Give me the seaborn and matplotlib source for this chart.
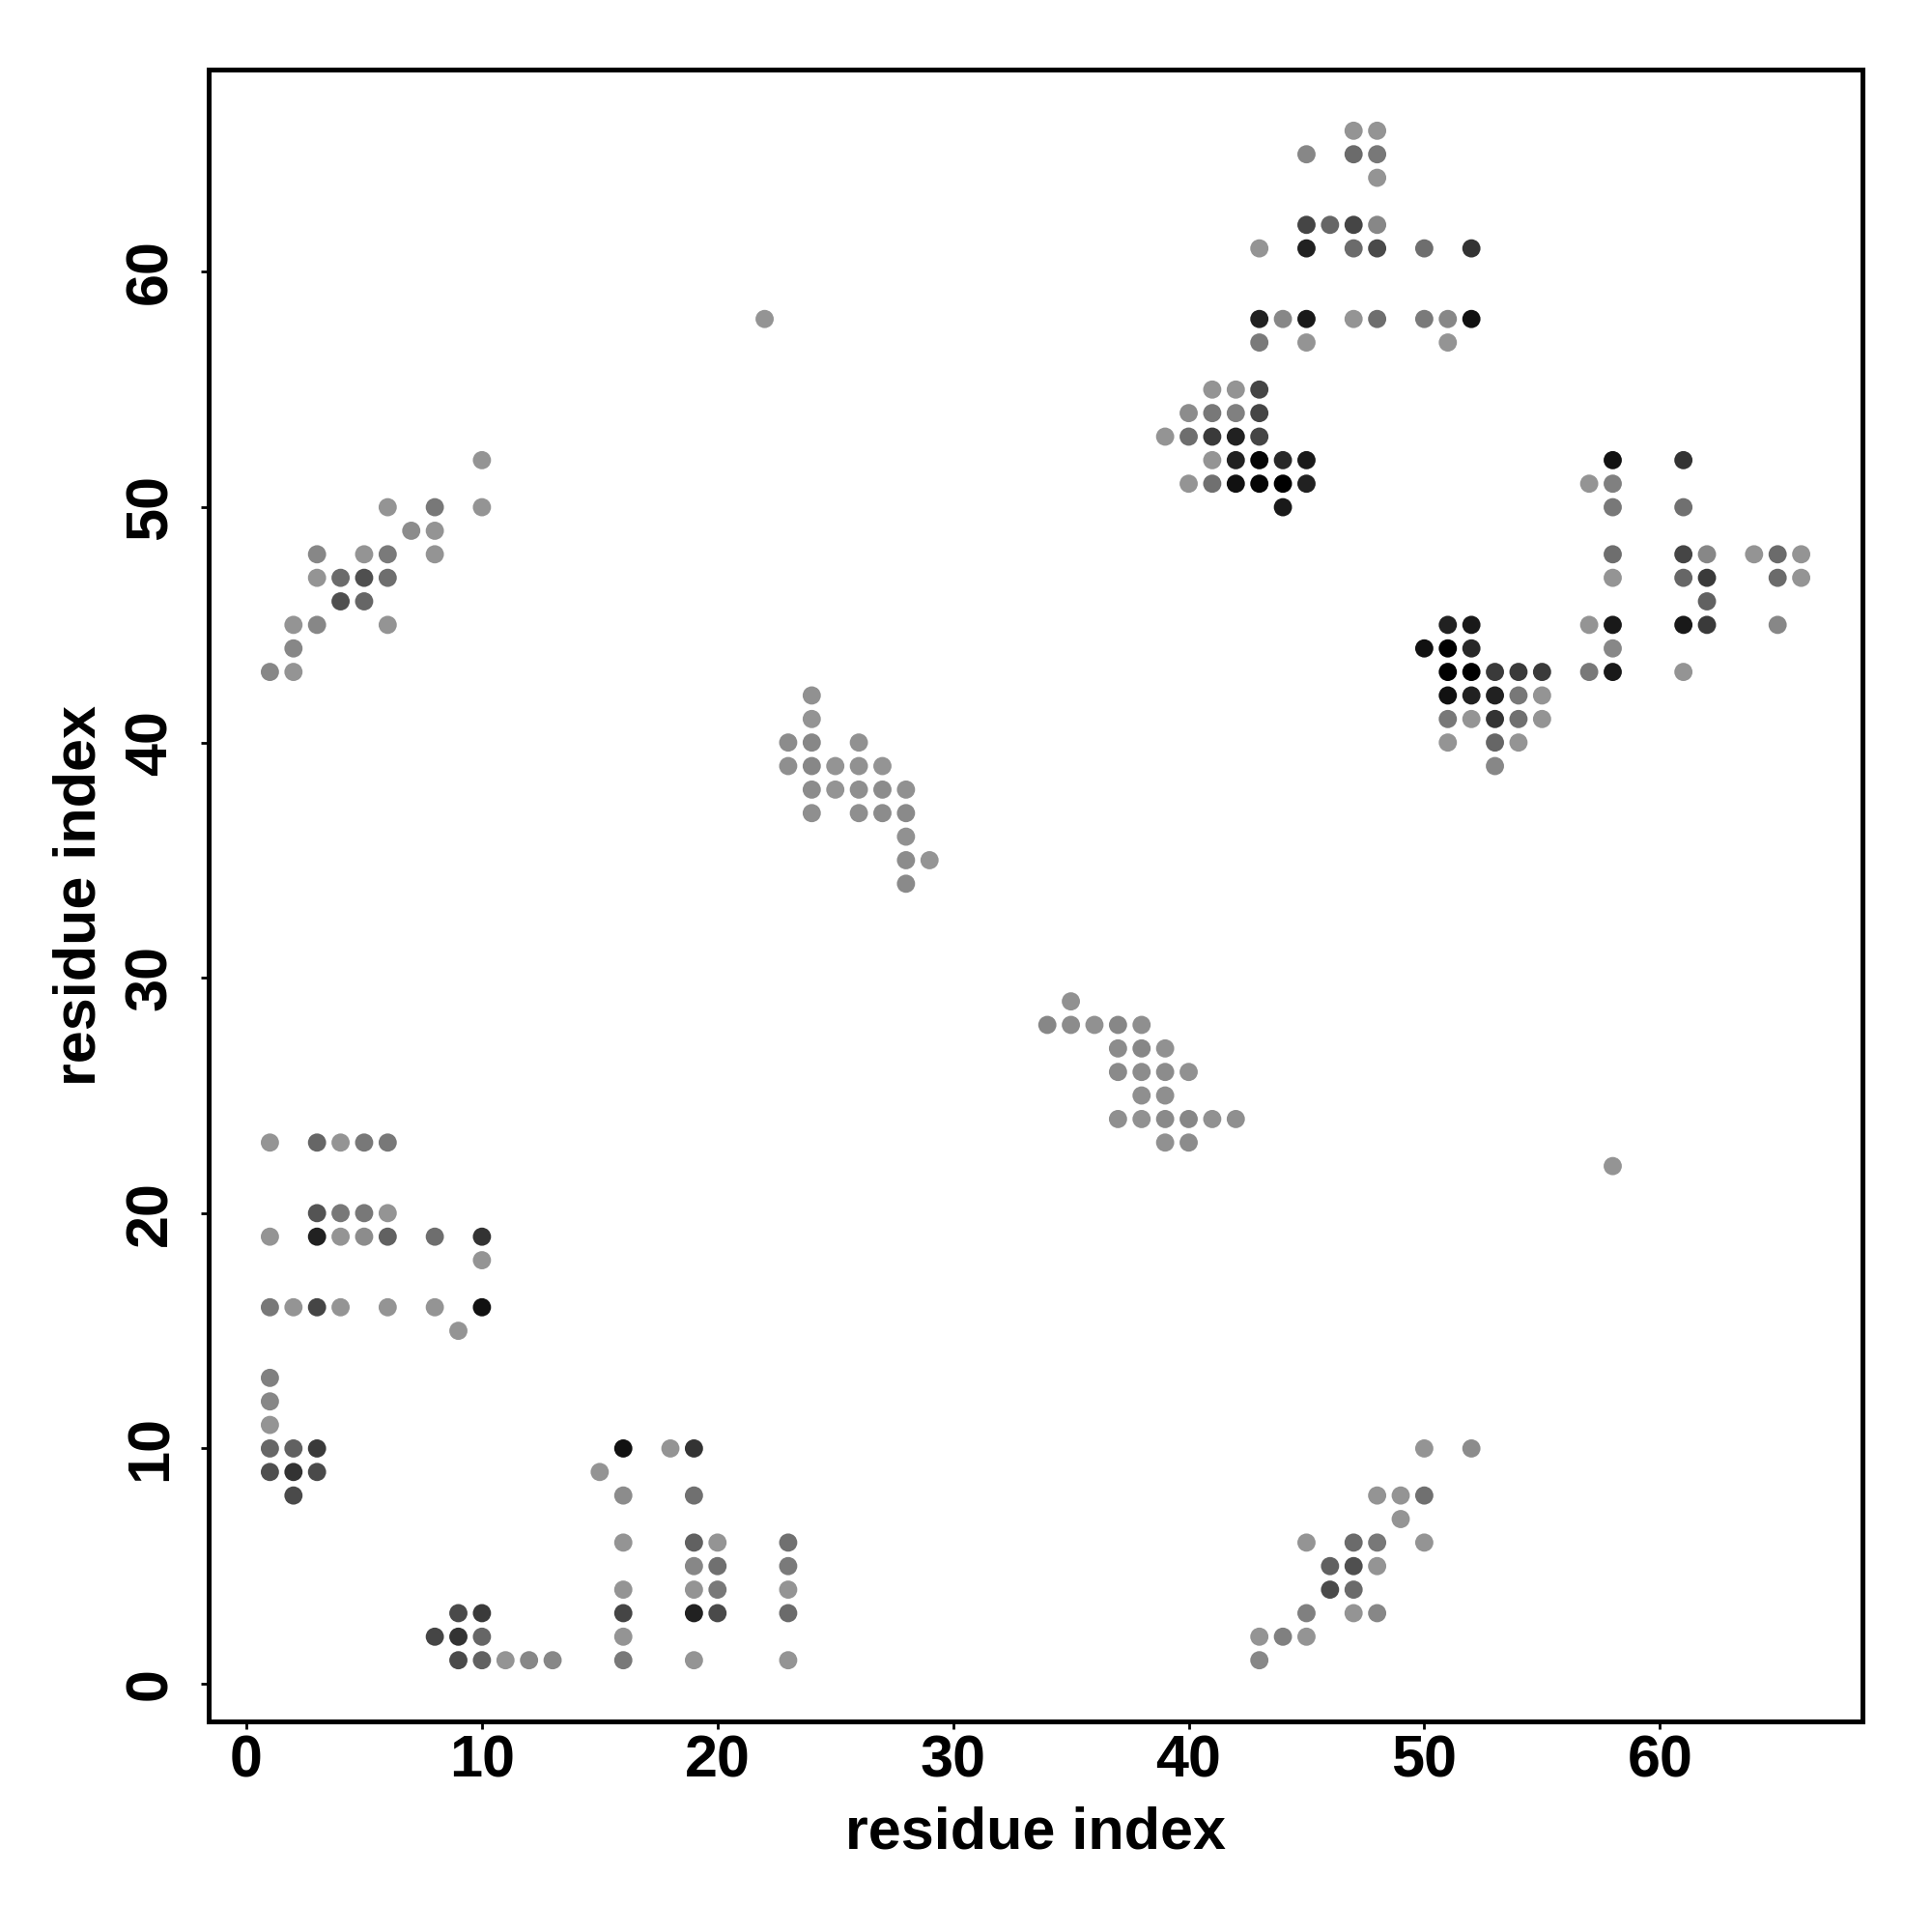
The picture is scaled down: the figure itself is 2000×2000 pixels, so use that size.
import numpy as np
import pandas as pd
import matplotlib.pyplot as plt
import seaborn as sns

# contact map: residue i (x), residue j (y), grey shade of the dot (0 = black, 1 = white)
res_i = [
    1, 3, 4, 5, 6,
    3, 4, 5, 6,
    1, 3, 4, 5, 6, 8, 10,
    10,
    1, 2, 3, 4, 6, 8, 10,
    9,
    1, 1, 1,
    1, 2, 3,
    1, 2, 3,
    2,
    9, 10,
    8, 9, 10,
    9, 10, 11, 12, 13,
    # x 15-23, low y
    16, 18, 19,
    15,
    16, 19,
    16, 19, 20, 23,
    19, 20, 23,
    16, 19, 20, 23,
    16, 19, 20, 23,
    16,
    16, 19, 23,
    # upper left strand
    10,
    6, 8, 10,
    7, 8,
    3, 5, 6, 8,
    3, 4, 5, 6,
    4, 5,
    2, 3, 6,
    2,
    1, 2,
    # middle strand
    24,
    24,
    23, 24, 26,
    23, 24, 25, 26, 27,
    24, 25, 26, 27, 28,
    24, 26, 27, 28,
    28,
    28, 29,
    28,
    22,
    # second middle strand
    35,
    34, 35, 36, 37, 38,
    37, 38, 39,
    37, 38, 39, 40,
    38, 39,
    37, 38, 39, 40, 41, 42,
    39, 40,
    58,
    # lower right strand
    50, 52,
    48, 49, 50,
    49,
    45, 47, 48, 50,
    46, 47, 48,
    46, 47,
    45, 47, 48,
    43, 44, 45,
    43,
    # top cluster
    47, 48,
    45, 47, 48,
    48,
    45, 46, 47, 48,
    43, 45, 47, 48, 50, 52,
    43, 44, 45, 47, 48, 50, 51, 52,
    43, 45, 51,
    41, 42, 43,
    40, 41, 42, 43,
    39, 40, 41, 42, 43,
    41, 42, 43, 44, 45,
    40, 41, 42, 43, 44, 45,
    44,
    # right cluster
    58, 61,
    57, 58,
    58, 61,
    58, 61, 62, 64, 65, 66,
    58, 61, 62, 65, 66,
    62,
    51, 52, 57, 58, 61, 62, 65,
    50, 51, 52, 58,
    51, 52, 53, 54, 55, 57, 58, 61,
    51, 52, 53, 54, 55,
    51, 52, 53, 54, 55,
    51, 53, 54,
    53,
]

res_j = [
    23, 23, 23, 23, 23,
    20, 20, 20, 20,
    19, 19, 19, 19, 19, 19, 19,
    18,
    16, 16, 16, 16, 16, 16, 16,
    15,
    13, 12, 11,
    10, 10, 10,
    9, 9, 9,
    8,
    3, 3,
    2, 2, 2,
    1, 1, 1, 1, 1,
    # x 15-23, low y
    10, 10, 10,
    9,
    8, 8,
    6, 6, 6, 6,
    5, 5, 5,
    4, 4, 4, 4,
    3, 3, 3, 3,
    2,
    1, 1, 1,
    # upper left strand
    52,
    50, 50, 50,
    49, 49,
    48, 48, 48, 48,
    47, 47, 47, 47,
    46, 46,
    45, 45, 45,
    44,
    43, 43,
    # middle strand
    42,
    41,
    40, 40, 40,
    39, 39, 39, 39, 39,
    38, 38, 38, 38, 38,
    37, 37, 37, 37,
    36,
    35, 35,
    34,
    58,
    # second middle strand
    29,
    28, 28, 28, 28, 28,
    27, 27, 27,
    26, 26, 26, 26,
    25, 25,
    24, 24, 24, 24, 24, 24,
    23, 23,
    22,
    # lower right strand
    10, 10,
    8, 8, 8,
    7,
    6, 6, 6, 6,
    5, 5, 5,
    4, 4,
    3, 3, 3,
    2, 2, 2,
    1,
    # top cluster
    66, 66,
    65, 65, 65,
    64,
    62, 62, 62, 62,
    61, 61, 61, 61, 61, 61,
    58, 58, 58, 58, 58, 58, 58, 58,
    57, 57, 57,
    55, 55, 55,
    54, 54, 54, 54,
    53, 53, 53, 53, 53,
    52, 52, 52, 52, 52,
    51, 51, 51, 51, 51, 51,
    50,
    # right cluster
    52, 52,
    51, 51,
    50, 50,
    48, 48, 48, 48, 48, 48,
    47, 47, 47, 47, 47,
    46,
    45, 45, 45, 45, 45, 45, 45,
    44, 44, 44, 44,
    43, 43, 43, 43, 43, 43, 43, 43,
    42, 42, 42, 42, 42,
    41, 41, 41, 41, 41,
    40, 40, 40,
    39,
]

shade = [
    .58, .40, .58, .47, .47,
    .33, .47, .47, .58,
    .58, .13, .58, .55, .38, .43, .20,
    .58,
    .47, .58, .27, .58, .58, .58, .07,
    .58,
    .50, .53, .58,
    .40, .38, .23,
    .31, .20, .29,
    .29,
    .29, .23,
    .27, .20, .40,
    .29, .38, .58, .53, .53,
    # x 15-23, low y
    .07, .58, .20,
    .58,
    .55, .44,
    .58, .38, .58, .44,
    .53, .44, .48,
    .58, .58, .47, .58,
    .27, .13, .29, .42,
    .58,
    .47, .58, .58,
    # upper left strand
    .58,
    .58, .47, .58,
    .55, .58,
    .53, .58, .48, .58,
    .58, .42, .31, .43,
    .31, .40,
    .58, .53, .58,
    .53,
    .53, .58,
    # middle strand
    .57,
    .58,
    .55, .53, .57,
    .56, .53, .58, .57, .58,
    .55, .58, .56, .55, .57,
    .56, .56, .55, .54,
    .57,
    .55, .58,
    .54,
    .58,
    # second middle strand
    .57,
    .53, .55, .57, .53, .56,
    .55, .53, .57,
    .54, .55, .55, .57,
    .56, .56,
    .56, .57, .54, .53, .57, .56,
    .57, .55,
    .58,
    # lower right strand
    .58, .55,
    .58, .58, .44,
    .58,
    .58, .42, .47, .58,
    .38, .31, .58,
    .29, .42,
    .50, .58, .53,
    .58, .50, .58,
    .53,
    # top cluster
    .58, .58,
    .53, .42, .47,
    .58,
    .27, .40, .27, .53,
    .58, .13, .42, .29, .43, .20,
    .13, .53, .10, .58, .43, .48, .53, .07,
    .48, .58, .58,
    .58, .58, .27,
    .55, .47, .50, .27,
    .58, .43, .23, .13, .27,
    .58, .13, .02, .16, .10,
    .58, .44, .07, .02, .00, .13,
    .10,
    # right cluster
    .07, .20,
    .58, .50,
    .47, .44,
    .43, .27, .53, .58, .42, .58,
    .58, .40, .23, .42, .58,
    .38,
    .13, .10, .58, .10, .10, .23, .53,
    .07, .00, .16, .53,
    .00, .00, .23, .23, .23, .47, .10, .58,
    .07, .13, .13, .47, .58,
    .47, .58, .20, .44, .58,
    .58, .40, .58,
    .53,
]

ticks = [0, 10, 20, 30, 40, 50, 60]

df = pd.DataFrame({"i": res_i, "j": res_j, "shade": shade})

sns.set_style("white")
plt.rcParams["font.family"] = ["Liberation Sans", "DejaVu Sans"]
plt.rcParams["font.weight"] = "bold"
plt.rcParams["text.color"] = "black"
plt.rcParams["axes.labelcolor"] = "black"
plt.rcParams["xtick.color"] = "black"
plt.rcParams["ytick.color"] = "black"

fig = plt.figure(figsize=(10, 10), dpi=200)
ax = fig.add_axes([0.108, 0.109, 0.856, 0.855])

sns.scatterplot(data=df, x="i", y="j", hue="shade", palette="gray", hue_norm=(0, 1),
                s=46, linewidth=0, legend=False, ax=ax)

ax.set_xlim(-1.6, 68.6)
ax.set_ylim(-1.6, 68.6)
ax.set_xticks(ticks)
ax.set_yticks(ticks)
ax.set_xticklabels([str(t) for t in ticks], fontsize=22, fontweight="bold", color="black")
ax.set_yticklabels([str(t) for t in ticks], fontsize=22, fontweight="bold", color="black",
                   rotation=90, va="center")
ax.tick_params(axis="both", direction="out", length=3, width=1, color="black",
               labelcolor="black", bottom=True, left=True)
ax.tick_params(axis="x", pad=2)
ax.tick_params(axis="y", pad=8)

for sp in ax.spines.values():
    sp.set_visible(True)
    sp.set_color("black")
    sp.set_linewidth(1.8)

ax.set_xlabel("residue index", fontsize=22, fontweight="bold", labelpad=6, color="black")
ax.set_ylabel("residue index", fontsize=22, fontweight="bold", labelpad=6, color="black")

fig.savefig("out.png", dpi=200, facecolor="white")
